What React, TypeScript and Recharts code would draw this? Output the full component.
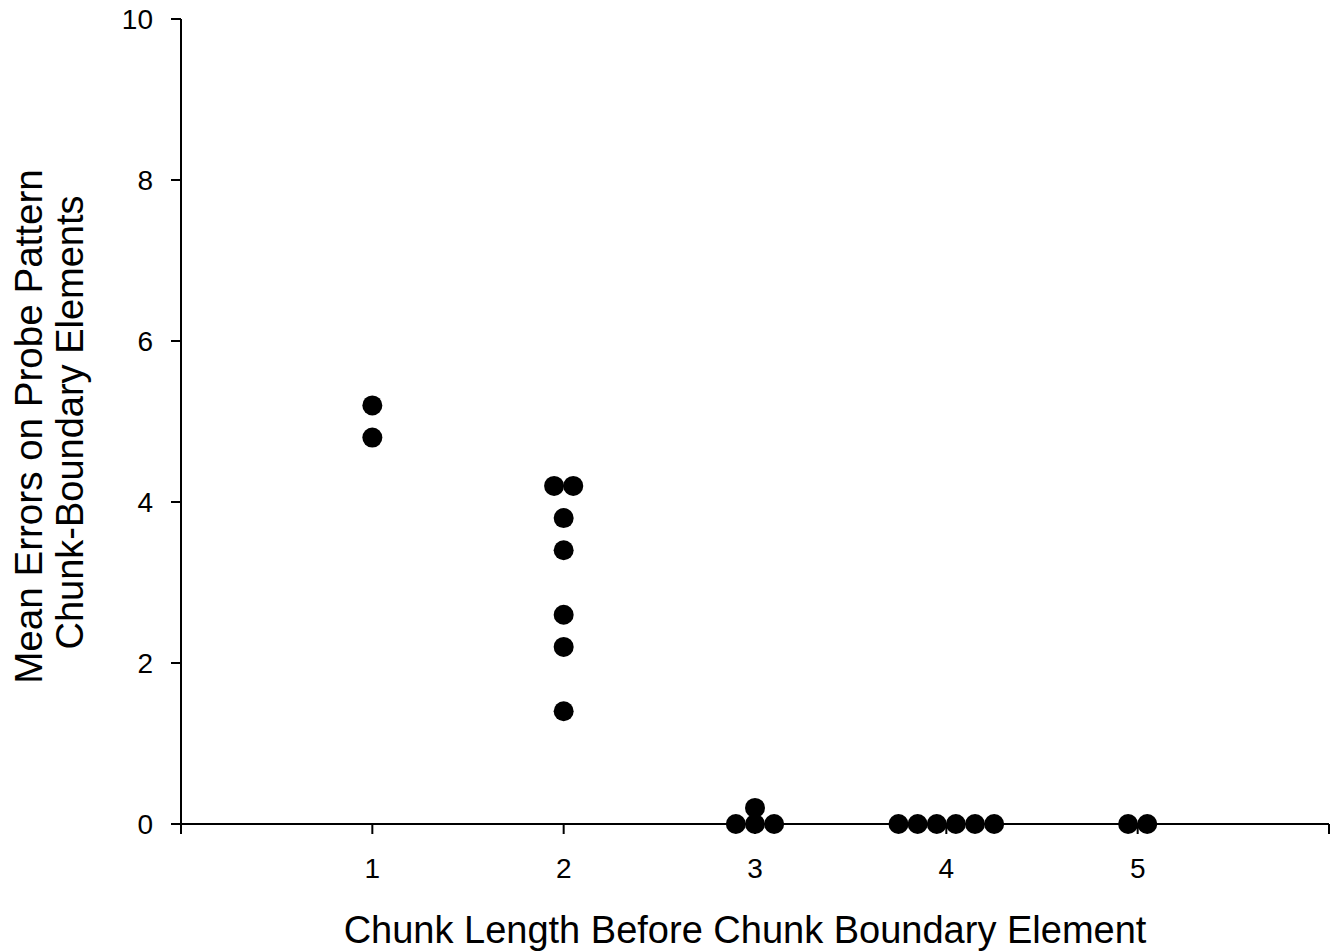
import React from "react";
import { ScatterChart, Scatter, XAxis, YAxis } from "recharts";

// chunk length (jittered like the original so stacked dots sit side by side)
const chunkLength = [1, 1, 1.95, 2.05, 2, 2, 2, 2, 2, 2.9, 3, 3, 3.1, 3.75, 3.85, 3.95, 4.05, 4.15, 4.25, 4.95, 5.05];
const meanErrors = [5.2, 4.8, 4.2, 4.2, 3.8, 3.4, 2.6, 2.2, 1.4, 0, 0.2, 0, 0, 0, 0, 0, 0, 0, 0, 0, 0];

const xTicks = [0, 1, 2, 3, 4, 5, 6];
const yTicks = [0, 2, 4, 6, 8, 10];
const xLabelled = [1, 2, 3, 4, 5];

const xTitle = "Chunk Length Before Chunk Boundary Element";
const yTitle = ["Mean Errors on Probe Pattern", "Chunk-Boundary Elements"];

const points = chunkLength.map((x, i) => ({ x, y: meanErrors[i] }));

const font = "'Liberation Sans', Arial, sans-serif";
const axisStroke = { stroke: "#000", strokeWidth: 2 };

function Dot(props: any) {
  return <circle cx={props.cx} cy={props.cy} r={10} fill="#000" />;
}

function YTitle(props: any) {
  const vb = props.viewBox;
  const cy = vb.y + vb.height / 2;
  return (
    <text transform={`translate(0, ${cy}) rotate(-90)`} textAnchor="middle" fontSize={38} fontFamily={font} fill="#000">
      <tspan x={-5} y={42} fontSize={38.6}>{yTitle[0]}</tspan>
      <tspan x={-1} y={83}>{yTitle[1]}</tspan>
    </text>
  );
}

export default function App() {
  return (
    <div style={{ position: "absolute", left: 0, top: 0, background: "#fff" }}>
      <ScatterChart width={1342} height={952} margin={{ top: 19, right: 13, bottom: 0, left: 0 }}>
        <XAxis
          xAxisId="bottom"
          dataKey="x"
          type="number"
          domain={[0, 6]}
          ticks={xTicks}
          interval={0}
          height={128}
          axisLine={axisStroke}
          tickLine={axisStroke}
          tickSize={10}
          tickMargin={24}
          tick={{ fill: "#000", fontSize: 28, fontFamily: font }}
          tickFormatter={(v: number) => (xLabelled.includes(v) ? String(v) : "")}
          label={{ value: xTitle, position: "insideBottom", offset: 9, fill: "#000", fontSize: 38, fontFamily: font, dx: -10 }}
        />
        <XAxis xAxisId="top" orientation="top" type="number" domain={[0, 6]} height={0} tick={false} tickLine={false} axisLine={axisStroke} />
        <YAxis
          yAxisId="left"
          dataKey="y"
          type="number"
          domain={[0, 10]}
          ticks={yTicks}
          interval={0}
          width={181}
          axisLine={axisStroke}
          tickLine={axisStroke}
          tickSize={10}
          tickMargin={18}
          tick={{ fill: "#000", fontSize: 28, fontFamily: font }}
          label={{ content: YTitle }}
        />
        <YAxis yAxisId="right" orientation="right" type="number" domain={[0, 10]} width={0} tick={false} tickLine={false} axisLine={axisStroke} />
        <Scatter data={points} xAxisId="bottom" yAxisId="left" shape={Dot} isAnimationActive={false} />
      </ScatterChart>
    </div>
  );
}
